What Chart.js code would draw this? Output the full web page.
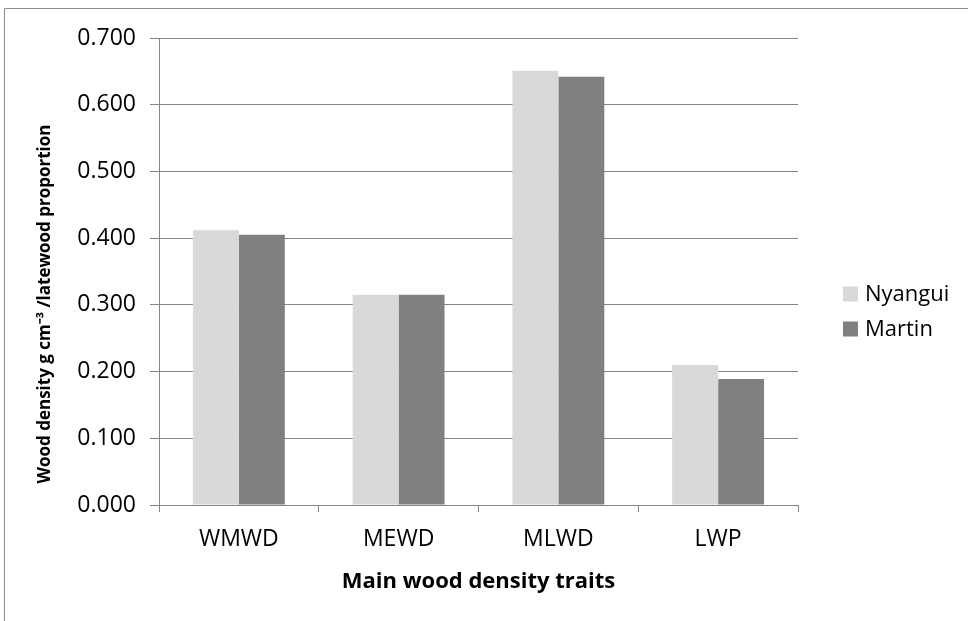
<!DOCTYPE html>
<html>
<head>
<meta charset="utf-8">
<title>Main wood density traits</title>
<script src="https://cdn.jsdelivr.net/npm/chart.js@4.4.1/dist/chart.umd.min.js"></script>
<style>
  html, body { margin: 0; padding: 0; background: #ffffff; }
  #wrap { position: relative; width: 968px; height: 621px; }
</style>
</head>
<body>
<div id="wrap"><canvas id="chart" width="968" height="621"></canvas></div>
<script>
// Trait categories and mean values per provenance
const categories = ['WMWD', 'MEWD', 'MLWD', 'LWP'];
const seriesNames = ['Nyangui', 'Martin'];
const nyanguiValues = [0.412, 0.315, 0.651, 0.210];
const martinValues = [0.405, 0.315, 0.642, 0.189];
const yTickValues = [0, 0.1, 0.2, 0.3, 0.4, 0.5, 0.6, 0.7];

const yTitle = 'Wood density g cm\u207B\u00B3 /latewood proportion';
const xTitle = 'Main wood density traits';

const FONT = "'Open Sans', 'Liberation Sans', sans-serif";
const GRID = '#868686';
const colors = ['#d9d9d9', '#808080'];

// Outer frame, axis titles and legend drawn on the canvas
const decorations = {
  id: 'decorations',
  beforeDraw(chart) {
    const ctx = chart.ctx;
    ctx.save();
    ctx.strokeStyle = '#8a8a8a';
    ctx.lineWidth = 1;
    ctx.beginPath();
    ctx.moveTo(4.5, 621);
    ctx.lineTo(4.5, 8.5);
    ctx.lineTo(968, 8.5);
    ctx.stroke();
    ctx.restore();
  },
  afterDraw(chart) {
    const ctx = chart.ctx;
    const area = chart.chartArea;
    ctx.save();
    ctx.fillStyle = '#000000';
    // y axis title
    ctx.font = 'bold 17px ' + FONT;
    ctx.textAlign = 'center';
    ctx.textBaseline = 'middle';
    ctx.translate(45, 304);
    ctx.rotate(-Math.PI / 2);
    ctx.fillText(yTitle, 0, 0);
    ctx.setTransform(1, 0, 0, 1, 0, 0);
    // x axis title
    ctx.font = 'bold 22px ' + FONT;
    ctx.fillText(xTitle, (area.left + area.right) / 2, 582);
    // legend
    ctx.font = '22px ' + FONT;
    ctx.textAlign = 'left';
    chart.data.datasets.forEach((ds, i) => {
      const cy = 294 + i * 35;
      ctx.fillStyle = ds.backgroundColor;
      ctx.fillRect(843, cy - 7.5, 15, 15);
      ctx.fillStyle = '#000000';
      ctx.fillText(ds.label, 865, cy + 1);
    });
    ctx.restore();
  }
};

function build() {
  new Chart(document.getElementById('chart'), {
    type: 'bar',
    data: {
      labels: categories,
      datasets: [
        { label: seriesNames[0], data: nyanguiValues, backgroundColor: colors[0] },
        { label: seriesNames[1], data: martinValues, backgroundColor: colors[1] }
      ]
    },
    options: {
      responsive: false,
      animation: false,
      devicePixelRatio: 1,
      categoryPercentage: 0.575,
      barPercentage: 1.0,
      layout: { padding: { top: 38, right: 170, bottom: 0, left: 0 } },
      plugins: {
        legend: { display: false },
        tooltip: { enabled: false },
        title: { display: false }
      },
      scales: {
        x: {
          afterFit(scale) { scale.height = 116; },
          grid: {
            display: true,
            offset: true,
            drawOnChartArea: false,
            drawTicks: true,
            tickLength: 7,
            color: GRID,
            lineWidth: 1
          },
          border: { display: true, color: GRID, width: 1 },
          ticks: {
            color: '#000000',
            padding: 14,
            font: { family: FONT, size: 23 }
          }
        },
        y: {
          min: 0,
          max: 0.7,
          afterFit(scale) { scale.width = 159; },
          afterBuildTicks(scale) {
            scale.ticks = yTickValues.map(v => ({ value: v }));
          },
          grid: {
            display: true,
            drawTicks: true,
            tickLength: 9,
            color: GRID,
            lineWidth: 1
          },
          border: { display: true, color: GRID, width: 1 },
          ticks: {
            color: '#000000',
            padding: 14,
            font: { family: FONT, size: 23 },
            callback: (v) => Number(v).toFixed(3)
          }
        }
      }
    },
    plugins: [decorations]
  });
}

if (document.fonts && document.fonts.load) {
  Promise.all([
    document.fonts.load("23px 'Open Sans'"),
    document.fonts.load("bold 22px 'Open Sans'")
  ]).then(build, build);
} else {
  build();
}
</script>
</body>
</html>
